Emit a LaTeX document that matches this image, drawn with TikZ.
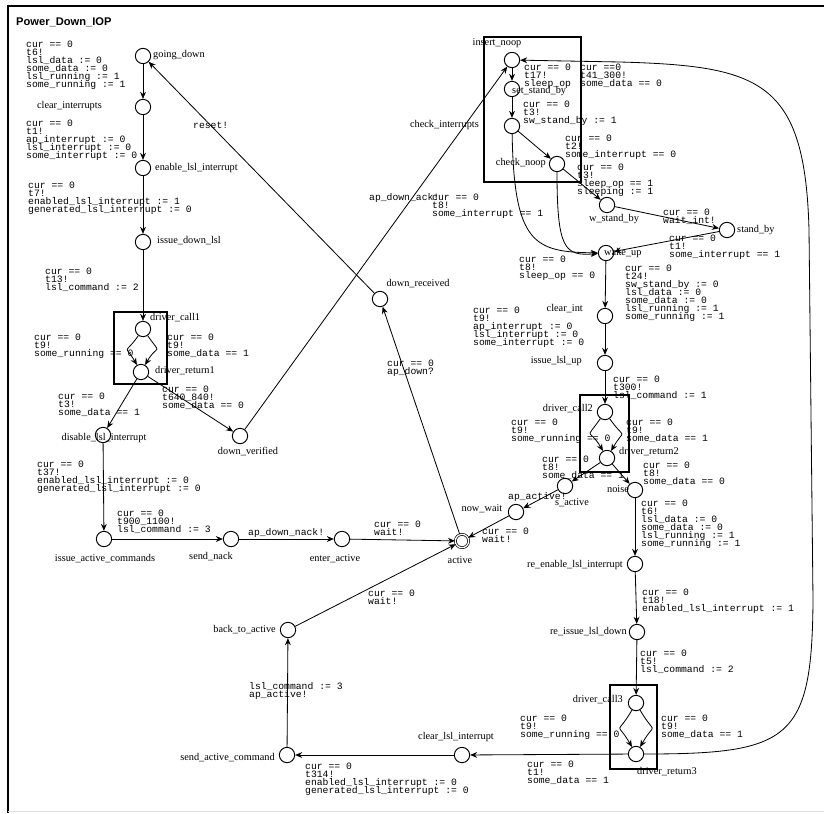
\documentclass[tikz,border=0pt]{standalone}
\usepackage{fontspec}
\setmainfont{Liberation Serif}
\setsansfont{Liberation Sans}
\setmonofont{Liberation Mono}
\usetikzlibrary{arrows.meta}
\newcommand\guardfont{\ttfamily\fontsize{8.3}{6.9}\selectfont\lineskiplimit -10pt\relax}

\begin{document}
\begin{tikzpicture}[
    x=0.03cm, y=-0.03cm,
    loc/.style={circle, draw, line width=0.8pt, minimum size=0.46cm, inner sep=0pt},
    init/.style={circle, draw, double, double distance=1.1pt, line width=0.6pt, minimum size=0.4cm, inner sep=0pt},
    sname/.style={font=\fontsize{8.8}{10}\selectfont, inner sep=0pt},
    guard/.style={font=\guardfont, align=left, anchor=north west, inner sep=0pt, yshift=0.105cm},
    edge/.style={-{Stealth[length=6pt, width=5pt]}, line width=0.7pt},
    grp/.style={line width=2.4pt},
    ttl/.style={font=\sffamily\bfseries\fontsize{9.5}{11}\selectfont, anchor=west, inner sep=0pt}
]
    \useasboundingbox (0,0) rectangle (824,813);

    % Frame and title
    \draw[line width=2.5pt] (8,813) -- (8,6) -- (824,6);
    \draw[black!12, line width=0.8pt] (8,811) -- (824,811);
    \node[ttl] (title) at (16,22) {Power\_Down\_IOP};

    % Groups
    \draw[grp] (114,312) rectangle (167,384);
    \draw[grp] (580,395) rectangle (629,472);
    \draw[grp] (610,685) rectangle (657,769);
    \draw[grp] (484,37) rectangle (581,182);

    % Locations, left part
    \node[loc] (going_down) at (143,56) {};
    \node[loc] (clear_interrupts) at (143,107) {};
    \node[loc] (enable_lsl_interrupt) at (143,168) {};
    \node[loc] (issue_down_lsl) at (143,242) {};
    \node[loc] (driver_call1) at (143,329) {};
    \node[loc] (driver_return1) at (141,372) {};
    \node[loc] (disable_lsl_interrupt) at (103,435) {};
    \node[loc] (down_verified) at (240,436) {};
    \node[loc] (down_received) at (380,299) {};
    \node[loc] (issue_active_commands) at (104,539) {};
    \node[loc] (send_nack) at (231,539) {};
    \node[loc] (enter_active) at (342,539) {};
    \node[init] (active) at (462,541) {};
    \node[loc] (back_to_active) at (288,630) {};
    \node[loc] (send_active_command) at (287,755) {};
    \node[loc] (clear_lsl_interrupt) at (462,755) {};

    % Locations, right part
    \node[loc] (insert_noop) at (512,60) {};
    \node[loc] (set_stand_by) at (512,89) {};
    \node[loc] (check_interrupts) at (512,126) {};
    \node[loc] (check_noop) at (557,164) {};
    \node[loc] (w_stand_by) at (607,205) {};
    \node[loc] (stand_by) at (727,230) {};
    \node[loc] (wake_up) at (606,253) {};
    \node[loc] (clear_int) at (605,316) {};
    \node[loc] (issue_lsl_up) at (605,363) {};
    \node[loc] (driver_call2) at (605,412) {};
    \node[loc] (driver_return2) at (607,458) {};
    \node[loc] (s_active) at (565,486) {};
    \node[loc] (now_wait) at (516,512) {};
    \node[loc] (noise) at (635,490) {};
    \node[loc] (re_enable_lsl_interrupt) at (635,564) {};
    \node[loc] (re_issue_lsl_down) at (637,632) {};
    \node[loc] (driver_call3) at (636,703) {};
    \node[loc] (driver_return3) at (636,754) {};

    % Location names
    \node[sname, anchor=west] (going_down-n) at (153,55) {going\_down};
    \node[sname, anchor=east] (clear_interrupts-n) at (102,106) {clear\_interrupts};
    \node[sname, anchor=west] (enable_lsl_interrupt-n) at (155,168) {enable\_lsl\_interrupt};
    \node[sname, anchor=west] (issue_down_lsl-n) at (157,241) {issue\_down\_lsl};
    \node[sname, anchor=west] (driver_call1-n) at (150,318) {driver\_call1};
    \node[sname, anchor=west] (driver_return1-n) at (155,371) {driver\_return1};
    \node[sname] (disable_lsl_interrupt-n) at (104,438) {disable\_lsl\_interrupt};
    \node[sname] (down_verified-n) at (248,452) {down\_verified};
    \node[sname] (down_received-n) at (418,284) {down\_received};
    \node[sname] (issue_active_commands-n) at (105,559) {issue\_active\_commands};
    \node[sname] (send_nack-n) at (211,557) {send\_nack};
    \node[sname] (enter_active-n) at (335,559) {enter\_active};
    \node[sname] (active-n) at (460,560) {active};
    \node[sname, anchor=east] (back_to_active-n) at (276,630) {back\_to\_active};
    \node[sname, anchor=east] (send_active_command-n) at (275,758) {send\_active\_command};
    \node[sname] (clear_lsl_interrupt-n) at (456,737) {clear\_lsl\_interrupt};
    \node[sname] (insert_noop-n) at (497,43) {insert\_noop};
    \node[sname, anchor=west] (set_stand_by-n) at (512,91) {set\_stand\_by};
    \node[sname, anchor=east] (check_interrupts-n) at (479,125) {check\_interrupts};
    \node[sname, anchor=east] (check_noop-n) at (546,163) {check\_noop};
    \node[sname] (w_stand_by-n) at (614,219) {w\_stand\_by};
    \node[sname, anchor=west] (stand_by-n) at (737,230) {stand\_by};
    \node[sname, anchor=west] (wake_up-n) at (604,253) {wake\_up};
    \node[sname, anchor=east] (clear_int-n) at (583,309) {clear\_int};
    \node[sname, anchor=east] (issue_lsl_up-n) at (582,361) {issue\_lsl\_up};
    \node[sname, anchor=east] (driver_call2-n) at (593,409) {driver\_call2};
    \node[sname, anchor=west] (driver_return2-n) at (619,452) {driver\_return2};
    \node[sname] (s_active-n) at (572,503) {s\_active};
    \node[sname] (now_wait-n) at (482,509) {now\_wait};
    \node[sname] (noise-n) at (618,489) {noise};
    \node[sname, anchor=east] (re_enable_lsl_interrupt-n) at (623,565) {re\_enable\_lsl\_interrupt};
    \node[sname, anchor=east] (re_issue_lsl_down-n) at (627,632) {re\_issue\_lsl\_down};
    \node[sname, anchor=east] (driver_call3-n) at (623,700) {driver\_call3};
    \node[sname, anchor=west] (driver_return3-n) at (637,772) {driver\_return3};

    % Edges, left part
    \draw[edge] (going_down) -- (clear_interrupts);
    \draw[edge] (clear_interrupts) -- (enable_lsl_interrupt);
    \draw[edge] (enable_lsl_interrupt) -- (issue_down_lsl);
    \draw[edge] (issue_down_lsl) -- (driver_call1);
    \draw[edge] (driver_call1) to[out=-125, in=120, looseness=2.2] (driver_return1);
    \draw[edge] (driver_call1) to[out=-55, in=60, looseness=2.2] (driver_return1);
    \draw[edge] (driver_return1) -- (disable_lsl_interrupt);
    \draw[edge] (driver_return1) -- (down_verified);
    \draw[edge] (disable_lsl_interrupt) -- (issue_active_commands);
    \draw[edge] (issue_active_commands) -- (send_nack);
    \draw[edge] (send_nack) -- (enter_active);
    \draw[edge] (enter_active) -- (active);
    \draw[edge] (down_verified) -- (insert_noop);
    \draw[edge] (down_received) -- (going_down);
    \draw[edge] (active) -- (down_received);

    % Edges, right part
    \draw[edge] (insert_noop) -- (set_stand_by);
    \draw[edge] (set_stand_by) -- (check_interrupts);
    \draw[edge] (check_interrupts) -- (check_noop);
    \draw[edge] (check_noop) -- (w_stand_by);
    \draw[edge] (w_stand_by) -- (stand_by);
    \draw[edge] (stand_by) -- (wake_up);
    \draw[edge] (check_interrupts) .. controls (514,245) and (535,252) .. (wake_up);
    \draw[edge] (check_noop) .. controls (557,250) and (565,256) .. (wake_up);
    \draw[edge] (wake_up) -- (clear_int);
    \draw[edge] (clear_int) -- (issue_lsl_up);
    \draw[edge] (issue_lsl_up) -- (driver_call2);
    \draw[edge] (driver_call2) to[out=-125, in=120, looseness=2.2] (driver_return2);
    \draw[edge] (driver_call2) to[out=-55, in=60, looseness=2.2] (driver_return2);
    \draw[edge] (driver_return2) -- (s_active);
    \draw[edge] (driver_return2) -- (noise);
    \draw[edge] (s_active) -- (now_wait);
    \draw[edge] (now_wait) -- (active);
    \draw[edge] (noise) -- (re_enable_lsl_interrupt);
    \draw[edge] (re_enable_lsl_interrupt) -- (re_issue_lsl_down);
    \draw[edge] (re_issue_lsl_down) -- (driver_call3);
    \draw[edge] (driver_call3) to[out=-120, in=120, looseness=2.2] (driver_return3);
    \draw[edge] (driver_call3) to[out=-60, in=60, looseness=2.2] (driver_return3);
    \draw[edge] (driver_return3) -- (clear_lsl_interrupt);
    \draw[edge] (clear_lsl_interrupt) -- (send_active_command);
    \draw[edge] (send_active_command) -- (back_to_active);
    \draw[edge] (back_to_active) -- (active);
    \draw[edge] (driver_return3) .. controls (790,754) and (812,740) .. (813,600)
        -- (809,230) .. controls (805,80) and (760,66) .. (620,62) -- (insert_noop);

    % Guards, syncs and updates
    \node[guard] (g1) at (26,44) {cur == 0\\t6!\\lsl\_data := 0\\some\_data := 0\\lsl\_running := 1\\some\_running := 1};
    \node[guard] (g2) at (26,123) {cur == 0\\t1!\\ap\_interrupt := 0\\lsl\_interrupt := 0\\some\_interrupt := 0};
    \node[guard] (g3) at (28,185) {cur == 0\\t7!\\enabled\_lsl\_interrupt := 1\\generated\_lsl\_interrupt := 0};
    \node[guard] (g4) at (45,271) {cur == 0\\t13!\\lsl\_command := 2};
    \node[guard] (g5) at (34,337) {cur == 0\\t9!\\some\_running == 0};
    \node[guard] (g6) at (167,337) {cur == 0\\t9!\\some\_data == 1};
    \node[guard] (g7) at (58,396) {cur == 0\\t3!\\some\_data == 1};
    \node[guard] (g8) at (162,389) {cur == 0\\t640\_840!\\some\_data == 0};
    \node[guard] (g9) at (37,464) {cur == 0\\t37!\\enabled\_lsl\_interrupt := 0\\generated\_lsl\_interrupt := 0};
    \node[guard] (g10) at (117,513) {cur == 0\\t900\_1100!\\lsl\_command := 3};
    \node[guard] (g11) at (248,532) {ap\_down\_nack!};
    \node[guard] (g12) at (374,524) {cur == 0\\wait!};
    \node[guard] (g13) at (369,197) {ap\_down\_ack!};
    \node[guard] (g14) at (193,125) {reset!};
    \node[guard] (g15) at (387,363) {cur == 0\\ap\_down?};
    \node[guard] (g16) at (432,197) {cur == 0\\t8!\\some\_interrupt == 1};
    \node[guard] (g17) at (519,259) {cur == 0\\t8!\\sleep\_op == 0};
    \node[guard] (g18) at (524,67) {cur == 0\\t17!\\sleep\_op};
    \node[guard] (g19) at (523,104) {cur == 0\\t3!\\sw\_stand\_by := 1};
    \node[guard] (g20) at (565,138) {cur == 0\\t2!\\some\_interrupt == 0};
    \node[guard] (g21) at (577,167) {cur == 0\\t3!\\sleep\_op == 1\\sleeping := 1};
    \node[guard] (g22) at (663,212) {cur == 0\\wait\_int!};
    \node[guard] (g23) at (669,238) {cur == 0\\t1!\\some\_interrupt == 1};
    \node[guard] (g24) at (580,67) {cur ==0\\t41\_300!\\some\_data == 0};
    \node[guard] (g25) at (625,268) {cur == 0\\t24!\\sw\_stand\_by := 0\\lsl\_data := 0\\some\_data := 0\\lsl\_running := 1\\some\_running := 1};
    \node[guard] (g26) at (473,310) {cur == 0\\t9!\\ap\_interrupt := 0\\lsl\_interrupt := 0\\some\_interrupt := 0};
    \node[guard] (g27) at (613,379) {cur == 0\\t300!\\lsl\_command := 1};
    \node[guard] (g28) at (511,422) {cur == 0\\t9!\\some\_running == 0};
    \node[guard] (g29) at (626,422) {cur == 0\\t9!\\some\_data == 1};
    \node[guard] (g30) at (542,459) {cur == 0\\t8!\\some\_data == 1};
    \node[guard] (g31) at (643,465) {cur == 0\\t8!\\some\_data == 0};
    \node[guard] (g32) at (508,496) {ap\_active!};
    \node[guard] (g33) at (482,531) {cur == 0\\wait!};
    \node[guard] (g34) at (641,503) {cur == 0\\t6!\\lsl\_data := 0\\some\_data := 0\\lsl\_running := 1\\some\_running := 1};
    \node[guard] (g35) at (642,592) {cur == 0\\t18!\\enabled\_lsl\_interrupt := 1};
    \node[guard] (g36) at (640,653) {cur == 0\\t5!\\lsl\_command := 2};
    \node[guard] (g37) at (520,718) {cur == 0\\t9!\\some\_running == 0};
    \node[guard] (g38) at (661,718) {cur == 0\\t9!\\some\_data == 1};
    \node[guard] (g39) at (527,764) {cur == 0\\t1!\\some\_data == 1};
    \node[guard] (g40) at (305,766) {cur == 0\\t314!\\enabled\_lsl\_interrupt := 0\\generated\_lsl\_interrupt := 0};
    \node[guard] (g41) at (249,686) {lsl\_command := 3\\ap\_active!};
    \node[guard] (g42) at (368,593) {cur == 0\\wait!};
\end{tikzpicture}
\end{document}
